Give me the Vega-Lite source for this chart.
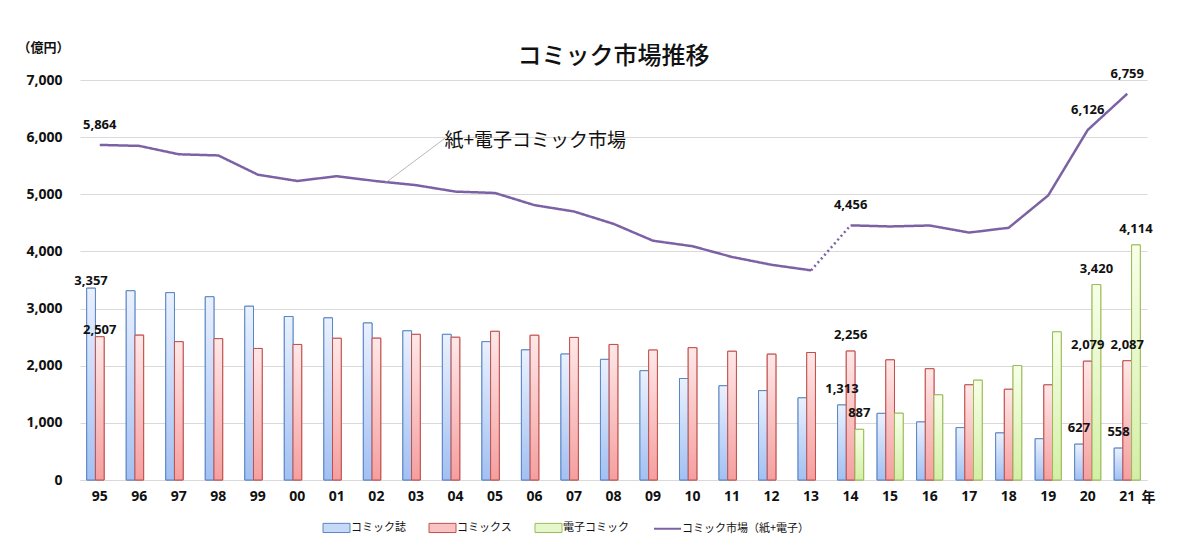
{
  "$schema": "https://vega.github.io/schema/vega-lite/v6.json",
  "autosize": {"type": "none"},
  "padding": {"left": 80, "top": 80, "right": 53, "bottom": 71},
  "width": 1067,
  "height": 400,
  "background": "white",
  "title": {
    "text": "コミック市場推移",
    "font": "Noto Sans CJK JP",
    "fontSize": 24,
    "fontWeight": 500,
    "color": "#111111",
    "anchor": "middle",
    "frame": "group",
    "offset": -28
  },
  "datasets": {
    "bars": [
      {"year": "95", "series": "コミック誌", "value": 3357, "labeled": true},
      {"year": "96", "series": "コミック誌", "value": 3312},
      {"year": "97", "series": "コミック誌", "value": 3279},
      {"year": "98", "series": "コミック誌", "value": 3207},
      {"year": "99", "series": "コミック誌", "value": 3041},
      {"year": "00", "series": "コミック誌", "value": 2861},
      {"year": "01", "series": "コミック誌", "value": 2837},
      {"year": "02", "series": "コミック誌", "value": 2748},
      {"year": "03", "series": "コミック誌", "value": 2611},
      {"year": "04", "series": "コミック誌", "value": 2549},
      {"year": "05", "series": "コミック誌", "value": 2421},
      {"year": "06", "series": "コミック誌", "value": 2277},
      {"year": "07", "series": "コミック誌", "value": 2204},
      {"year": "08", "series": "コミック誌", "value": 2111},
      {"year": "09", "series": "コミック誌", "value": 1913},
      {"year": "10", "series": "コミック誌", "value": 1776},
      {"year": "11", "series": "コミック誌", "value": 1650},
      {"year": "12", "series": "コミック誌", "value": 1564},
      {"year": "13", "series": "コミック誌", "value": 1438},
      {"year": "14", "series": "コミック誌", "value": 1313, "labeled": true},
      {"year": "15", "series": "コミック誌", "value": 1166},
      {"year": "16", "series": "コミック誌", "value": 1016},
      {"year": "17", "series": "コミック誌", "value": 917},
      {"year": "18", "series": "コミック誌", "value": 824},
      {"year": "19", "series": "コミック誌", "value": 722},
      {"year": "20", "series": "コミック誌", "value": 627, "labeled": true},
      {"year": "21", "series": "コミック誌", "value": 558, "labeled": true},
      {"year": "95", "series": "コミックス", "value": 2507, "labeled": true},
      {"year": "96", "series": "コミックス", "value": 2535},
      {"year": "97", "series": "コミックス", "value": 2421},
      {"year": "98", "series": "コミックス", "value": 2473},
      {"year": "99", "series": "コミックス", "value": 2302},
      {"year": "00", "series": "コミックス", "value": 2372},
      {"year": "01", "series": "コミックス", "value": 2480},
      {"year": "02", "series": "コミックス", "value": 2482},
      {"year": "03", "series": "コミックス", "value": 2549},
      {"year": "04", "series": "コミックス", "value": 2498},
      {"year": "05", "series": "コミックス", "value": 2602},
      {"year": "06", "series": "コミックス", "value": 2533},
      {"year": "07", "series": "コミックス", "value": 2495},
      {"year": "08", "series": "コミックス", "value": 2372},
      {"year": "09", "series": "コミックス", "value": 2274},
      {"year": "10", "series": "コミックス", "value": 2315},
      {"year": "11", "series": "コミックス", "value": 2253},
      {"year": "12", "series": "コミックス", "value": 2202},
      {"year": "13", "series": "コミックス", "value": 2231},
      {"year": "14", "series": "コミックス", "value": 2256, "labeled": true},
      {"year": "15", "series": "コミックス", "value": 2102},
      {"year": "16", "series": "コミックス", "value": 1947},
      {"year": "17", "series": "コミックス", "value": 1666},
      {"year": "18", "series": "コミックス", "value": 1588},
      {"year": "19", "series": "コミックス", "value": 1665},
      {"year": "20", "series": "コミックス", "value": 2079, "labeled": true},
      {"year": "21", "series": "コミックス", "value": 2087, "labeled": true},
      {"year": "14", "series": "電子コミック", "value": 887, "labeled": true},
      {"year": "15", "series": "電子コミック", "value": 1169},
      {"year": "16", "series": "電子コミック", "value": 1491},
      {"year": "17", "series": "電子コミック", "value": 1747},
      {"year": "18", "series": "電子コミック", "value": 2002},
      {"year": "19", "series": "電子コミック", "value": 2593},
      {"year": "20", "series": "電子コミック", "value": 3420, "labeled": true},
      {"year": "21", "series": "電子コミック", "value": 4114, "labeled": true}
    ],
    "total": [
      {"year": "95", "seg": "paper", "series": "コミック市場（紙+電子）", "value": 5864, "labeled": true},
      {"year": "96", "seg": "paper", "series": "コミック市場（紙+電子）", "value": 5847},
      {"year": "97", "seg": "paper", "series": "コミック市場（紙+電子）", "value": 5700},
      {"year": "98", "seg": "paper", "series": "コミック市場（紙+電子）", "value": 5680},
      {"year": "99", "seg": "paper", "series": "コミック市場（紙+電子）", "value": 5343},
      {"year": "00", "seg": "paper", "series": "コミック市場（紙+電子）", "value": 5233},
      {"year": "01", "seg": "paper", "series": "コミック市場（紙+電子）", "value": 5317},
      {"year": "02", "seg": "paper", "series": "コミック市場（紙+電子）", "value": 5230},
      {"year": "03", "seg": "paper", "series": "コミック市場（紙+電子）", "value": 5160},
      {"year": "04", "seg": "paper", "series": "コミック市場（紙+電子）", "value": 5047},
      {"year": "05", "seg": "paper", "series": "コミック市場（紙+電子）", "value": 5023},
      {"year": "06", "seg": "paper", "series": "コミック市場（紙+電子）", "value": 4810},
      {"year": "07", "seg": "paper", "series": "コミック市場（紙+電子）", "value": 4699},
      {"year": "08", "seg": "paper", "series": "コミック市場（紙+電子）", "value": 4483},
      {"year": "09", "seg": "paper", "series": "コミック市場（紙+電子）", "value": 4187},
      {"year": "10", "seg": "paper", "series": "コミック市場（紙+電子）", "value": 4091},
      {"year": "11", "seg": "paper", "series": "コミック市場（紙+電子）", "value": 3903},
      {"year": "12", "seg": "paper", "series": "コミック市場（紙+電子）", "value": 3766},
      {"year": "13", "seg": "paper", "series": "コミック市場（紙+電子）", "value": 3669},
      {"year": "13", "seg": "gap", "series": "コミック市場（紙+電子）", "value": 3669},
      {"year": "14", "seg": "gap", "series": "コミック市場（紙+電子）", "value": 4456},
      {"year": "14", "seg": "both", "series": "コミック市場（紙+電子）", "value": 4456, "labeled": true},
      {"year": "15", "seg": "both", "series": "コミック市場（紙+電子）", "value": 4437},
      {"year": "16", "seg": "both", "series": "コミック市場（紙+電子）", "value": 4454},
      {"year": "17", "seg": "both", "series": "コミック市場（紙+電子）", "value": 4330},
      {"year": "18", "seg": "both", "series": "コミック市場（紙+電子）", "value": 4414},
      {"year": "19", "seg": "both", "series": "コミック市場（紙+電子）", "value": 4980},
      {"year": "20", "seg": "both", "series": "コミック市場（紙+電子）", "value": 6126, "labeled": true},
      {"year": "21", "seg": "both", "series": "コミック市場（紙+電子）", "value": 6759, "labeled": true}
    ],
    "note": [
      {"from": "02", "fromValue": 5198, "to": "04", "toValue": 5985, "text": "紙+電子コミック市場", "textValue": 5930}
    ]
  },
  "encoding": {
    "x": {
      "field": "year",
      "type": "nominal",
      "scale": {
        "domain": ["95", "96", "97", "98", "99", "00", "01", "02", "03", "04", "05", "06", "07", "08", "09", "10", "11", "12", "13", "14", "15", "16", "17", "18", "19", "20", "21"],
        "paddingInner": 0.34,
        "paddingOuter": 0.17
      },
      "axis": {
        "title": "年",
        "titleX": 1068,
        "titleY": 17,
        "titleBaseline": "middle",
        "titleFont": "Noto Sans CJK JP",
        "titleFontSize": 14,
        "titleFontWeight": "bold",
        "titleColor": "#111111",
        "labelAngle": 0,
        "labelPadding": 9,
        "ticks": false,
        "domainColor": "#d9d9d9"
      }
    },
    "y": {
      "field": "value",
      "type": "quantitative",
      "scale": {"domain": [0, 7000]},
      "axis": {
        "title": "（億円）",
        "titleAngle": 0,
        "titleX": -37,
        "titleY": -33,
        "titleAlign": "center",
        "titleBaseline": "middle",
        "titleFont": "Noto Sans CJK JP",
        "titleFontSize": 13,
        "titleFontWeight": "bold",
        "titleColor": "#111111",
        "values": [0, 1000, 2000, 3000, 4000, 5000, 6000, 7000],
        "format": ",d",
        "labelPadding": 18,
        "ticks": false,
        "domain": false,
        "gridColor": "#d9d9d9"
      }
    }
  },
  "layer": [
    {
      "data": {"name": "bars"},
      "mark": {"type": "bar", "strokeWidth": 1},
      "encoding": {
        "xOffset": {
          "field": "series",
          "type": "nominal",
          "scale": {"domain": ["コミック誌", "コミックス", "電子コミック"], "paddingInner": 0, "paddingOuter": 0}
        },
        "fill": {
          "field": "series",
          "type": "nominal",
          "scale": {
            "domain": ["コミック誌", "コミックス", "電子コミック", "コミック市場（紙+電子）"],
            "range": ["#c6d9f7", "#fac3c3", "#e6f7cc", "transparent"]
          },
          "legend": {
            "orient": "none",
            "legendX": 251,
            "legendY": 442,
            "direction": "horizontal",
            "title": null,
            "symbolType": "M-1,-0.34H1V0.34H-1Z",
            "symbolSize": 729,
            "symbolStrokeWidth": 1,
            "labelFont": "Noto Sans CJK JP",
            "labelFontSize": 11,
            "labelColor": "#111111",
            "labelOffset": 9,
            "columnPadding": 21,
            "encode": {
              "symbols": {
                "update": {
                  "shape": {"signal": "datum.value === 'コミック市場（紙+電子）' ? 'stroke' : 'M-1,-0.34H1V0.34H-1Z'"},
                  "strokeWidth": {"signal": "datum.value === 'コミック市場（紙+電子）' ? 2 : 1"}
                }
              }
            }
          }
        },
        "stroke": {
          "field": "series",
          "type": "nominal",
          "scale": {
            "domain": ["コミック誌", "コミックス", "電子コミック", "コミック市場（紙+電子）"],
            "range": ["#5b86c5", "#c0504d", "#9bbb59", "#7c62a4"]
          }
        }
      }
    },
    {
      "data": {"name": "bars"},
      "transform": [{"filter": "datum.series === 'コミック誌'"}],
      "mark": {
        "type": "bar",
        "strokeWidth": 1,
        "stroke": "#5b86c5",
        "fill": {"gradient": "linear", "x1": 0, "y1": 0, "x2": 0, "y2": 1, "stops": [{"offset": 0, "color": "#eaf1fe"}, {"offset": 1, "color": "#a2c0f2"}]}
      },
      "encoding": {
        "xOffset": {"field": "series", "type": "nominal"}
      }
    },
    {
      "data": {"name": "bars"},
      "transform": [{"filter": "datum.series === 'コミックス'"}],
      "mark": {
        "type": "bar",
        "strokeWidth": 1,
        "stroke": "#c0504d",
        "fill": {"gradient": "linear", "x1": 0, "y1": 0, "x2": 0, "y2": 1, "stops": [{"offset": 0, "color": "#ffe8e8"}, {"offset": 1, "color": "#f59f9f"}]}
      },
      "encoding": {
        "xOffset": {"field": "series", "type": "nominal"}
      }
    },
    {
      "data": {"name": "bars"},
      "transform": [{"filter": "datum.series === '電子コミック'"}],
      "mark": {
        "type": "bar",
        "strokeWidth": 1,
        "stroke": "#9bbb59",
        "fill": {"gradient": "linear", "x1": 0, "y1": 0, "x2": 0, "y2": 1, "stops": [{"offset": 0, "color": "#f8ffe8"}, {"offset": 1, "color": "#d3efa6"}]}
      },
      "encoding": {
        "xOffset": {"field": "series", "type": "nominal"}
      }
    },
    {
      "data": {"name": "total"},
      "mark": {"type": "line", "strokeWidth": 2.5},
      "encoding": {
        "stroke": {"field": "series", "type": "nominal"},
        "detail": {"field": "seg", "type": "nominal"},
        "strokeDash": {
          "field": "seg",
          "type": "nominal",
          "scale": {"domain": ["paper", "gap", "both"], "range": [[1, 0], [2, 3], [1, 0]]},
          "legend": null
        }
      }
    },
    {
      "data": {"name": "total"},
      "transform": [{"filter": "datum.labeled === true"}],
      "mark": {"type": "text", "dy": -20, "font": "Noto Sans", "fontSize": 13, "fontWeight": "bold", "color": "#111111"},
      "encoding": {
        "text": {"field": "value", "type": "quantitative", "format": ","}
      }
    },
    {
      "data": {"name": "bars"},
      "transform": [{"filter": "datum.labeled === true && datum.year === '95'"}],
      "mark": {"type": "text", "dy": -7, "font": "Noto Sans", "fontSize": 13, "fontWeight": "bold", "color": "#111111"},
      "encoding": {
        "xOffset": {"field": "series", "type": "nominal"},
        "text": {"field": "value", "type": "quantitative", "format": ","}
      }
    },
    {
      "data": {"name": "bars"},
      "transform": [{"filter": "datum.labeled === true && datum.year !== '95'"}],
      "mark": {"type": "text", "dy": -16, "font": "Noto Sans", "fontSize": 13, "fontWeight": "bold", "color": "#111111"},
      "encoding": {
        "xOffset": {"field": "series", "type": "nominal"},
        "text": {"field": "value", "type": "quantitative", "format": ","}
      }
    },
    {
      "data": {"name": "note"},
      "mark": {"type": "rule", "stroke": "#a6a6a6", "strokeWidth": 0.8},
      "encoding": {
        "x": {"field": "from", "type": "nominal", "bandPosition": 0.84},
        "x2": {"field": "to", "bandPosition": 0.11},
        "y": {"field": "fromValue", "type": "quantitative"},
        "y2": {"field": "toValue"}
      }
    },
    {
      "data": {"name": "note"},
      "mark": {"type": "text", "align": "left", "baseline": "middle", "font": "Noto Sans CJK JP", "fontSize": 19, "color": "#111111"},
      "encoding": {
        "x": {"field": "to", "type": "nominal", "bandPosition": 0.08},
        "y": {"field": "textValue", "type": "quantitative"},
        "text": {"field": "text"}
      }
    }
  ],
  "config": {
    "view": {"stroke": null},
    "axis": {
      "labelFont": "Noto Sans",
      "labelFontSize": 14,
      "labelFontWeight": "bold",
      "labelColor": "#111111"
    },
    "legend": {"padding": 0}
  }
}
